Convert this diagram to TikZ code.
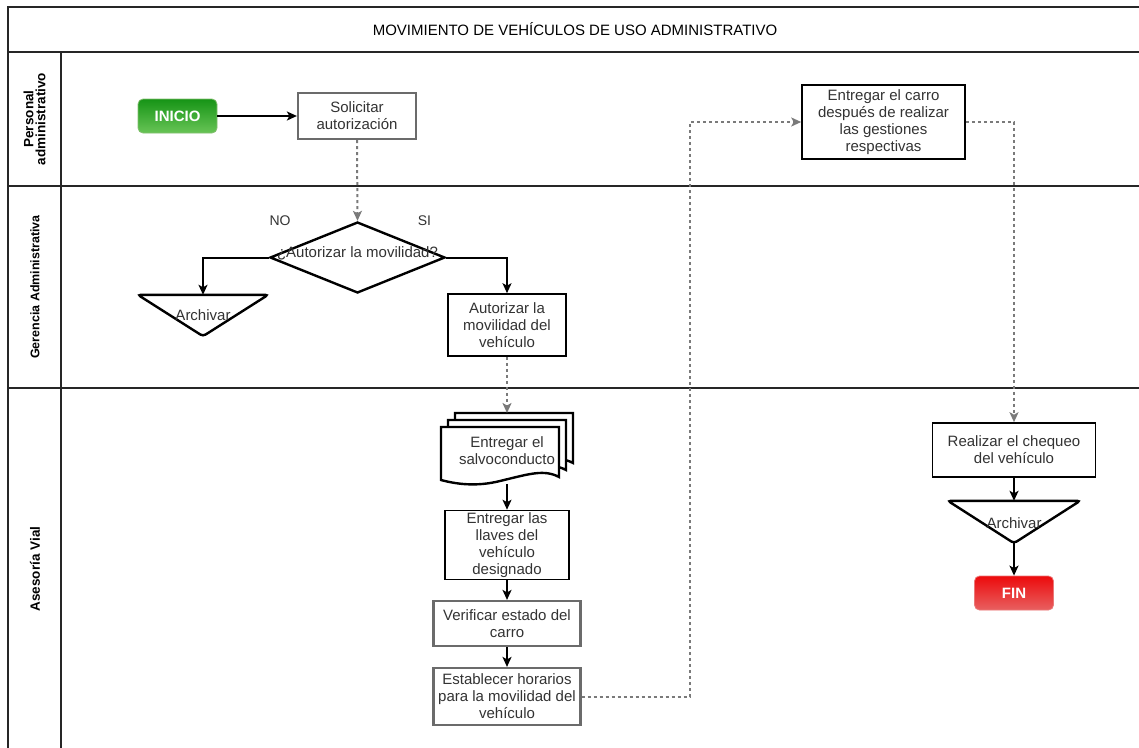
\documentclass[tikz,border=0pt]{standalone}
\usepackage{fontspec}
\setmainfont{Liberation Sans}
\usetikzlibrary{arrows.meta,shapes.geometric}

\definecolor{txt}{HTML}{333333}
\definecolor{edgegray}{HTML}{6B6B6B}
\definecolor{dashgray}{HTML}{7A7A7A}

\tikzset{
  base/.style={font=\fontsize{15}{17}\selectfont, text=txt, align=center},
  box/.style={base, draw=black, line width=1.6pt, fill=white, inner sep=2pt},
  graybox/.style={box, draw=edgegray, line width=2.2pt},
  term/.style={rounded corners=5pt, minimum width=79pt, minimum height=34pt,
    font=\fontsize{15}{17}\selectfont\bfseries, text=white, line width=0.8pt},
  lane/.style={font=\fontsize{13.5}{15}\selectfont\bfseries, align=center, rotate=90},
  frame/.style={line width=2pt, draw=black!85},
  tri/.style={line width=2.4pt, rounded corners=3pt, draw=black, fill=white},
  flow/.style={-{Stealth[length=10pt,width=9pt,inset=2.5pt]}, line width=2pt, draw=black},
  dots/.style={flow, draw=dashgray, dash pattern=on 3pt off 3pt},
  lbl/.style={font=\fontsize{14}{16}\selectfont, text=txt},
  hole/.style={base, inner sep=0pt},
}

\begin{document}
\begin{tikzpicture}[x=1pt,y=-1pt]
\useasboundingbox (0,0) rectangle (1139,747);

% swimlane frame
\draw[frame] (8,7) rectangle (1142,750);
\draw[frame] (8,52) -- (1142,52);
\draw[frame] (8,186) -- (1142,186);
\draw[frame] (8,388) -- (1142,388);
\draw[frame] (61,52) -- (61,750);

\node[font=\fontsize{15}{17}\selectfont, text=black] (title) at (575,29.5)
  {MOVIMIENTO DE VEHÍCULOS DE USO ADMINISTRATIVO};
\node[lane] (laneA) at (34.5,119) {Personal\\[-3pt]administrativo};
\node[lane, font=\fontsize{12.5}{14}\selectfont\bfseries] (laneB) at (35,287) {Gerencia Administrativa};
\node[lane] (laneC) at (35,569) {Asesoría Vial};

% Personal administrativo
\node[term, draw={rgb,255:red,130;green,190;blue,110},
  top color={rgb,255:red,22;green,148;blue,22},
  bottom color={rgb,255:red,104;green,196;blue,86}] (ini) at (177.5,116) {INICIO};
\node[graybox, minimum width=118pt, minimum height=46pt] (sol) at (357,116)
  {Solicitar\\autorización};
\node[box, minimum width=163pt, minimum height=74pt] (carro) at (883.5,122)
  {Entregar el carro\\después de realizar\\las gestiones\\respectivas};

% Gerencia Administrativa
\node[diamond, draw=black, line width=2.4pt, fill=white, inner sep=0pt,
  minimum width=175pt, minimum height=71pt, base] (dec) at (357.5,257.5)
  {\makebox[0pt]{\smash{¿Autorizar la movilidad?}}};
\node[lbl] (no) at (280,221) {NO};
\node[lbl] (si) at (424.5,221) {SI};

\node[hole, minimum width=130pt, minimum height=41pt] (arch1) at (203,315.5) {};
\draw[tri] (arch1.north west) -- (arch1.north east) -- (arch1.south) -- cycle;
\node[hole] (arch1t) at (arch1) {Archivar};

\node[box, minimum width=118pt, minimum height=62pt] (aut) at (507,325)
  {Autorizar la\\movilidad del\\vehículo};

% Asesoría Vial: stacked documents
\begin{scope}[line width=2.4pt, draw=black, fill=white]
  \filldraw (455,413) -- (573,413) -- (573,463)
    .. controls (558,455) and (543,460) .. (514,467)
    .. controls (490,473) and (470,470) .. (455,466) -- cycle;
  \filldraw (448,420) -- (566,420) -- (566,470)
    .. controls (551,462) and (536,467) .. (507,474)
    .. controls (483,480) and (463,477) .. (448,473) -- cycle;
  \filldraw (441,427) -- (559,427) -- (559,477)
    .. controls (544,469) and (529,474) .. (500,481)
    .. controls (476,487) and (456,484) .. (441,480) -- cycle;
\end{scope}
\node[hole] (doc) at (507,450.5) {Entregar el\\salvoconducto};
\coordinate (docin) at (507,413);
\coordinate (docout) at (507,484);

\node[box, minimum width=124pt, minimum height=68pt] (key) at (507,545)
  {Entregar las\\llaves del\\vehículo\\designado};
\node[graybox, minimum width=147pt, minimum height=45pt] (ver) at (507,623.5)
  {Verificar estado del\\carro};
\node[graybox, minimum width=147pt, minimum height=57pt] (est) at (507,696.5)
  {Establecer horarios\\para la movilidad del\\vehículo};

\node[box, minimum width=163pt, minimum height=54pt] (chq) at (1014,450)
  {Realizar el chequeo\\del vehículo};
\node[hole, minimum width=132pt, minimum height=42pt] (arch2) at (1014,522) {};
\draw[tri] (arch2.north west) -- (arch2.north east) -- (arch2.south) -- cycle;
\node[hole] (arch2t) at (1014,523) {Archivar};

\node[term, draw={rgb,255:red,235;green,120;blue,120},
  top color={rgb,255:red,236;green,10;blue,12},
  bottom color={rgb,255:red,232;green,96;blue,96}] (fin) at (1014,593) {FIN};

% connectors
\draw[flow] (ini.east) -- (sol.west);
\draw[dots] (sol.south) -- (dec.north);
\draw[flow] (dec.west) -| (arch1.north);
\draw[flow] (dec.east) -| (aut.north);
\draw[dots] (aut.south) -- (docin);
\draw[flow] (docout) -- (key.north);
\draw[flow] (key.south) -- (ver.north);
\draw[flow] (ver.south) -- (est.north);
\coordinate (jog) at (690,696.5);
\draw[dots] (est.east) -- (jog) |- (carro.west);
\draw[dots] (carro.east) -| (chq.north);
\draw[flow] (chq.south) -- (arch2.north);
\draw[flow] (arch2.south) -- (fin.north);
\end{tikzpicture}
\end{document}
